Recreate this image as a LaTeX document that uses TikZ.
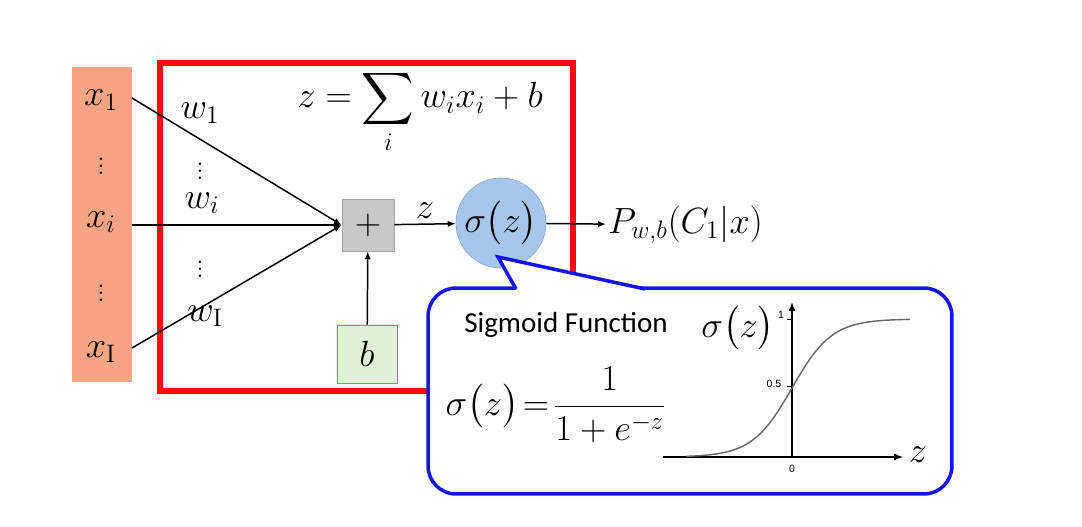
\documentclass[tikz,border=0pt]{standalone}
\usepackage{amsmath}
\usepackage{fontspec}
\usetikzlibrary{arrows.meta,positioning,shapes.geometric}
\newfontfamily\sigfont{Carlito}
\newfontfamily\tickfont{Liberation Sans}
\definecolor{inorange}{RGB}{243,164,130}
\definecolor{boxred}{RGB}{250,12,12}
\definecolor{sumgray}{RGB}{200,200,200}
\definecolor{sigblue}{RGB}{166,198,235}
\definecolor{biasgreen}{RGB}{224,240,218}
\definecolor{callblue}{RGB}{20,20,235}

\begin{document}
\begin{tikzpicture}[x=0.02cm,y=-0.02cm,
  every node/.style={font=\fontsize{20.74}{24}\selectfont,inner sep=1pt},
  dots/.style={inner sep=0pt,font=\fontsize{14.4}{16}\selectfont},
  wire/.style={line width=0.85pt,-{Latex[length=4.5pt,width=3.5pt]}}]
  \useasboundingbox (0,0) rectangle (1082,527);

  % inputs
  \node[fill=inorange,minimum width=1.2cm,minimum height=6.3cm] (col) at (102,224.5) {};
  \node (xone) at (101,100) {$x_1$};
  \node[dots] at (101,161) {$\vdots$};
  \node (xi) at (101,222) {$x_i$};
  \node[dots] at (101,288) {$\vdots$};
  \node (xI) at (101,352) {$x_{\mathrm{I}}$};

  % neuron
  \draw[boxred,line width=3.4pt] (160,63) rectangle (573,391);
  \node (sum) at (420,112) {$z=\displaystyle\sum_{i} w_i x_i+b$};
  \node[draw=gray!70,fill=sumgray,minimum size=1.04cm,inner sep=0pt] (plus) at (368,225) {$+$};
  \node[circle,draw=sigblue!85!black,fill=sigblue,minimum size=1.8cm,inner sep=0pt] (sig) at (501,223) {$\sigma\bigl(z\bigr)$};
  \node[draw=green!60!black!70,fill=biasgreen,minimum width=1.2cm,minimum height=1.16cm] (bias) at (367,354) {$b$};
  \node[anchor=west] (out) at (606,225) {$P_{w,b}(C_1|x)$};

  \node (wone) at (200,113) {$w_1$};
  \node[dots] at (200,166) {$\vdots$};
  \node (wi) at (202,203) {$w_i$};
  \node[dots] at (200,264) {$\vdots$};
  \node (wI) at (205,316) {$w_{\mathrm{I}}$};

  \foreach \a/\b in {xone/98,xi/225,xI/348}{
    \draw[wire] (132,\b) -- (plus.west);
  }
  \draw[wire] (plus) -- node[above=2pt] {$z$} (sig);
  \draw[wire] (bias) -- (plus);
  \draw[wire] (sig) -- (out);

  % callout
  \node[draw=callblue,fill=white,line width=2pt,rounded corners=0.56cm,
        minimum width=10.48cm,minimum height=4.12cm] (call) at (690,391) {};
  \coordinate (tip) at (498,257);
  \fill[white] (516,288) -- (tip) -- (645,288) -- (645,291) -- (516,291) -- cycle;
  \draw[callblue,line width=2pt,line join=miter] (516,289) -- (tip) -- (645,289);

  \node[font=\sigfont\fontsize{16.5}{19}\selectfont] (name) at (566,325) {Sigmoid Function};
  \node (formula) at (556,405) {$\sigma\bigl(z\bigr)\!=\!\dfrac{1}{1+e^{-z}}$};

  % plot
  \draw[line width=0.7pt,-{Latex[length=5pt,width=4pt]}] (663,457) -- (903,457);
  \draw[line width=0.7pt,-{Latex[length=5pt,width=4pt]}] (792,457) -- (792,302);
  \draw[gray!80!black,line width=0.8pt,domain=-5.3:5.9,samples=80] plot ({792+20*\x},{457-138/(1+exp(-\x))});
  \draw[line width=0.4pt] (787,319) -- (792,319) (787,386) -- (792,386);
  \node[font=\tickfont\fontsize{6}{7}\selectfont] at (781,315) {1};
  \node[font=\tickfont\fontsize{6}{7}\selectfont] at (774,384) {0.5};
  \node[font=\tickfont\fontsize{6}{7}\selectfont] at (792,469) {0};
  \node (sigz) at (738,328) {$\sigma\bigl(z\bigr)$};
  \node (zlab) at (918,455) {$z$};
\end{tikzpicture}
\end{document}
